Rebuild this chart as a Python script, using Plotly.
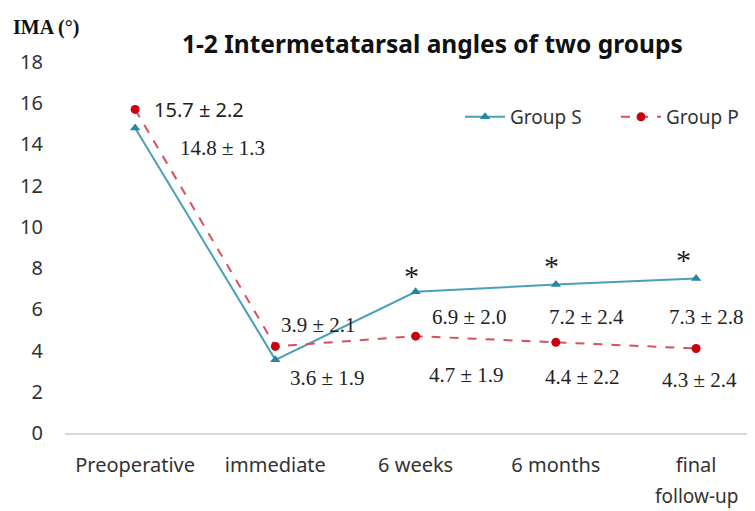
import plotly.graph_objects as go

categories = ["Preoperative", "immediate", "6 weeks", "6 months", "final"]
category_second_line = ["", "", "", "", "follow-up"]
group_s = [14.8, 3.55, 6.85, 7.2, 7.5]
group_p = [15.7, 4.2, 4.7, 4.4, 4.1]
labels_s = ["14.8 ± 1.3", "3.6 ± 1.9", "6.9 ± 2.0", "7.2 ± 2.4", "7.3 ± 2.8"]
labels_p = ["15.7 ± 2.2", "3.9 ± 2.1", "4.7 ± 1.9", "4.4 ± 2.2", "4.3 ± 2.4"]
significant = [False, False, True, True, True]
y_ticks = [0, 2, 4, 6, 8, 10, 12, 14, 16, 18]

x_idx = list(range(len(categories)))
teal_line = "#4aa0b8"
teal_mark = "#2487a3"
red_line = "#d9505c"
red_mark = "#c8000f"

# page geometry (body has an 8px margin, so the figure is 747x503)
PL, PR, PT, PB = 65, 755, 62, 433  # plot area in page pixels


def px(xp):
    return (xp - PL) / (PR - PL)


def py(yp):
    return (PB - yp) / (PB - PT)


serif = "Liberation Serif, Times New Roman, serif"
sans = "Noto Sans, Open Sans, sans-serif"

fig = go.Figure()
fig.add_trace(go.Scatter(
    x=x_idx, y=group_s, name="Group S", mode="lines+markers",
    line=dict(color=teal_line, width=2),
    marker=dict(symbol="triangle-up", size=9, color=teal_mark),
    legend="legend",
))
fig.add_trace(go.Scatter(
    x=x_idx, y=group_p, name="Group P", mode="lines+markers",
    line=dict(color=red_line, width=2, dash="dash"),
    marker=dict(symbol="circle", size=9, color=red_mark),
    legend="legend2",
))

# value labels (offsets in pixels relative to the data points)
s_off = [(87, 20), (52, 18), (54, 25), (31, 32), (10, 39)]
p_off = [(64, 0), (43, -21), (51, 39), (27, 35), (3, 32)]
for i, (lab, (dx, dy)) in enumerate(zip(labels_s, s_off)):
    fig.add_annotation(x=x_idx[i], y=group_s[i], text=lab, showarrow=True,
                       arrowcolor="rgba(0,0,0,0)", ax=dx, ay=dy,
                       font=dict(family=serif, size=21, color="#222"))
for i, (lab, (dx, dy)) in enumerate(zip(labels_p, p_off)):
    fig.add_annotation(x=x_idx[i], y=group_p[i], text=lab, showarrow=True,
                       arrowcolor="rgba(0,0,0,0)", ax=dx, ay=dy,
                       font=dict(family=sans if i == 0 else serif,
                                 size=20 if i == 0 else 21, color="#222"))

ast_off = [(0, 0), (0, 0), (-4, -16), (-4, -19), (-13, -19)]
for i, sig in enumerate(significant):
    if sig:
        dx, dy = ast_off[i]
        fig.add_annotation(x=x_idx[i], y=group_s[i], text="*", showarrow=True,
                           arrowcolor="rgba(0,0,0,0)", ax=dx, ay=dy,
                           font=dict(family=serif, size=30, color="#222"))

for i, t in enumerate(category_second_line):
    if t:
        fig.add_annotation(x=x_idx[i], xref="x", yref="paper", y=py(496), text=t,
                           showarrow=False, xanchor="center", yanchor="middle",
                           font=dict(family=sans, size=19, color="#333"))

fig.add_annotation(xref="paper", yref="paper", x=px(432), y=py(43),
                   text="<b>1-2 Intermetatarsal angles of two groups</b>", showarrow=False,
                   xanchor="center", yanchor="middle",
                   font=dict(family=sans, size=24.5, color="#111"))
fig.add_annotation(xref="paper", yref="paper", x=px(11), y=py(27),
                   text="<b>IMA (°)</b>", showarrow=False, xanchor="left", yanchor="middle",
                   font=dict(family=serif, size=20, color="#111"))

leg_common = dict(orientation="h", xanchor="left", yanchor="middle",
                  bgcolor="rgba(0,0,0,0)", itemwidth=40,
                  font=dict(family=sans, size=19, color="#333"))

fig.update_layout(
    width=747, height=503,
    margin=dict(l=PL - 8, r=0, t=PT - 8, b=511 - PB),
    paper_bgcolor="white", plot_bgcolor="white",
    showlegend=True,
    legend=dict(x=px(460), y=py(117), **leg_common),
    legend2=dict(x=px(616), y=py(117), **leg_common),
    xaxis=dict(tickmode="array", tickvals=x_idx, ticktext=categories,
               range=[-0.5, 4.42], showgrid=False, zeroline=False,
               showline=True, linecolor="#d9d9d9", linewidth=2,
               ticks="outside", ticklen=13, tickcolor="rgba(0,0,0,0)",
               tickfont=dict(family=sans, size=20, color="#333")),
    yaxis=dict(range=[0, 18], tickvals=y_ticks, showgrid=False, zeroline=False,
               showline=False, ticks="outside", ticklen=17, tickcolor="rgba(0,0,0,0)",
               tickfont=dict(family=sans, size=20, color="#333")),
)

fig.write_html("out.html")
